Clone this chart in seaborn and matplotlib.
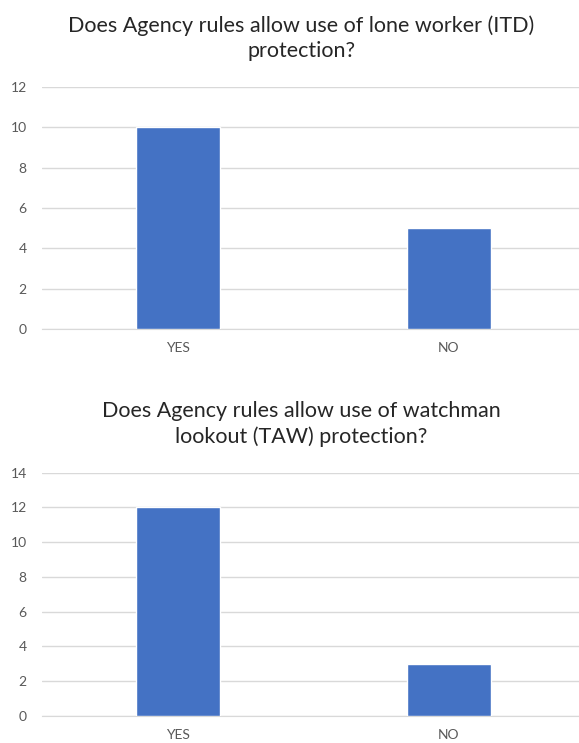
import matplotlib
matplotlib.use("Agg")
import matplotlib.pyplot as plt
import seaborn as sns
import pandas as pd

# chart data
answers = ["YES", "NO"]
itd_counts = [10, 5]
taw_counts = [12, 3]
itd_title = "Does Agency rules allow use of lone worker (ITD)\nprotection?"
taw_title = "Does Agency rules allow use of watchman\nlookout (TAW) protection?"

sns.set_style("white")
plt.rcParams['font.family'] = ['Lato', 'DejaVu Sans']

BAR = "#4472C4"
GRID = "#D9D9D9"
TXT = "#595959"

fig = plt.figure(figsize=(5.79, 7.43), dpi=100)


def draw(ax, counts, ymax):
    df = pd.DataFrame({"answer": answers, "count": counts})
    sns.barplot(data=df, x="answer", y="count", color=BAR, width=0.31,
                saturation=1, ax=ax, zorder=3)
    ax.set_ylim(0, ymax)
    ax.set_yticks(range(0, ymax + 1, 2))
    ax.set_xlim(-0.5, 1.48)
    ax.grid(axis="y", color=GRID, linewidth=1, zorder=0)
    for s in ["top", "right", "left"]:
        ax.spines[s].set_visible(False)
    ax.spines["bottom"].set_color(GRID)
    ax.set_xlabel("")
    ax.set_ylabel("")
    ax.tick_params(axis="y", length=0, labelsize=10, colors=TXT, pad=11)
    ax.tick_params(axis="x", length=0, labelsize=10, colors=TXT, pad=9)


ax1 = fig.add_axes([0.0725, 0.557, 0.9275, 0.326])
draw(ax1, itd_counts, 12)
fig.text(0.52, 0.949, itd_title, ha="center", va="center", fontsize=15.5,
         color="#262626", linespacing=1.3)

ax2 = fig.add_axes([0.0725, 0.0363, 0.9275, 0.3277])
draw(ax2, taw_counts, 14)
fig.text(0.52, 0.429, taw_title, ha="center", va="center", fontsize=15.5,
         color="#262626", linespacing=1.3)

fig.savefig("out.png", dpi=100)
